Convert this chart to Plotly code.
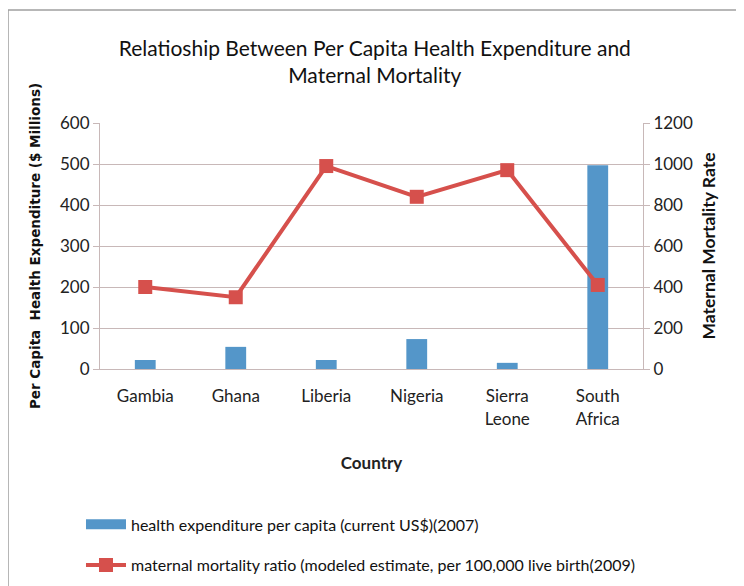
import plotly.graph_objects as go

# =========================================================
# Data
# =========================================================
countries = ["Gambia", "Ghana", "Liberia", "Nigeria", "Sierra<br>Leone", "South<br>Africa"]
health_expenditure = [22, 54, 22, 73, 15, 497]
maternal_mortality = [400, 350, 990, 840, 970, 410]

bar_name = "health expenditure per capita (current US$)(2007)"
line_name = "maternal mortality ratio (modeled estimate, per 100,000 live birth(2009)"

BAR_COLOR = "#5496C9"
LINE_COLOR = "#D6504C"
GRID_COLOR = "#C8B8B8"
TEXT_FONT = "Lato"

# =========================================================
# Figure
# =========================================================
figure = go.Figure()

figure.add_trace(
    go.Bar(
        x=countries,
        y=health_expenditure,
        name=bar_name,
        marker=dict(color=BAR_COLOR, line=dict(width=0)),
        showlegend=False,
        yaxis="y",
    )
)
# legend stand-in so the bar entry gets the wide Excel-style swatch
figure.add_trace(
    go.Scatter(
        x=[None],
        y=[None],
        name=bar_name,
        mode="lines",
        line=dict(color=BAR_COLOR, width=12),
        legendgroup="bar",
        yaxis="y",
    )
)
figure.add_trace(
    go.Scatter(
        x=countries,
        y=maternal_mortality,
        name=line_name,
        mode="lines+markers",
        line=dict(color=LINE_COLOR, width=4),
        marker=dict(symbol="square", size=14, color=LINE_COLOR),
        legendgroup="line",
        yaxis="y2",
    )
)

figure.update_layout(
    width=744,
    height=586,
    margin=dict(l=92, r=109, t=115, b=225, autoexpand=False),
    paper_bgcolor="white",
    plot_bgcolor="white",
    bargap=0.77,
    font=dict(family=TEXT_FONT, size=17, color="#222222"),
    title=dict(
        text="Relatioship Between Per Capita Health Expenditure and<br>Maternal Mortality",
        x=0.493,
        xanchor="center",
        y=0.918,
        yanchor="top",
        font=dict(family=TEXT_FONT, size=21, color="#111111"),
    ),
    xaxis=dict(
        title=dict(text="<b>Country</b>", font=dict(family=TEXT_FONT, size=17), standoff=29),
        showline=True,
        linecolor=GRID_COLOR,
        ticks="outside",
        ticklen=12,
        tickcolor="rgba(0,0,0,0)",
        tickfont=dict(size=17),
    ),
    yaxis=dict(
        title=dict(
            text="<b>Per Capita  Health Expenditure ($ Millions)</b>",
            font=dict(family="DejaVu Sans", size=13.5, color="#111111"),
            standoff=16,
        ),
        range=[0, 600],
        dtick=100,
        showgrid=True,
        gridcolor=GRID_COLOR,
        showline=True,
        linecolor=GRID_COLOR,
        ticks="outside",
        ticklen=6,
        tickcolor=GRID_COLOR,
        zeroline=False,
        tickfont=dict(size=17),
    ),
    yaxis2=dict(
        title=dict(
            text="<b>Maternal Mortality Rate</b>",
            font=dict(family=TEXT_FONT, size=17.5, color="#111111"),
            standoff=10,
        ),
        overlaying="y",
        side="right",
        range=[0, 1200],
        dtick=200,
        showgrid=False,
        showline=True,
        linecolor=GRID_COLOR,
        ticks="outside",
        ticklen=6,
        tickcolor=GRID_COLOR,
        zeroline=False,
        tickfont=dict(size=17),
    ),
    legend=dict(
        orientation="v",
        x=-0.035,
        xanchor="left",
        y=-0.5625,
        yanchor="top",
        font=dict(family=TEXT_FONT, size=16, color="#111111"),
        tracegroupgap=17,
        itemwidth=40,
        bgcolor="rgba(0,0,0,0)",
    ),
    showlegend=True,
)

# chart border
figure.add_shape(
    type="rect",
    xref="paper",
    yref="paper",
    x0=-0.1694,
    x1=1.175,
    y0=-0.95,
    y1=1.459,
    line=dict(color="#A0A0A0", width=1.5),
    fillcolor="rgba(0,0,0,0)",
    layer="below",
)

figure.write_html("out.html")
